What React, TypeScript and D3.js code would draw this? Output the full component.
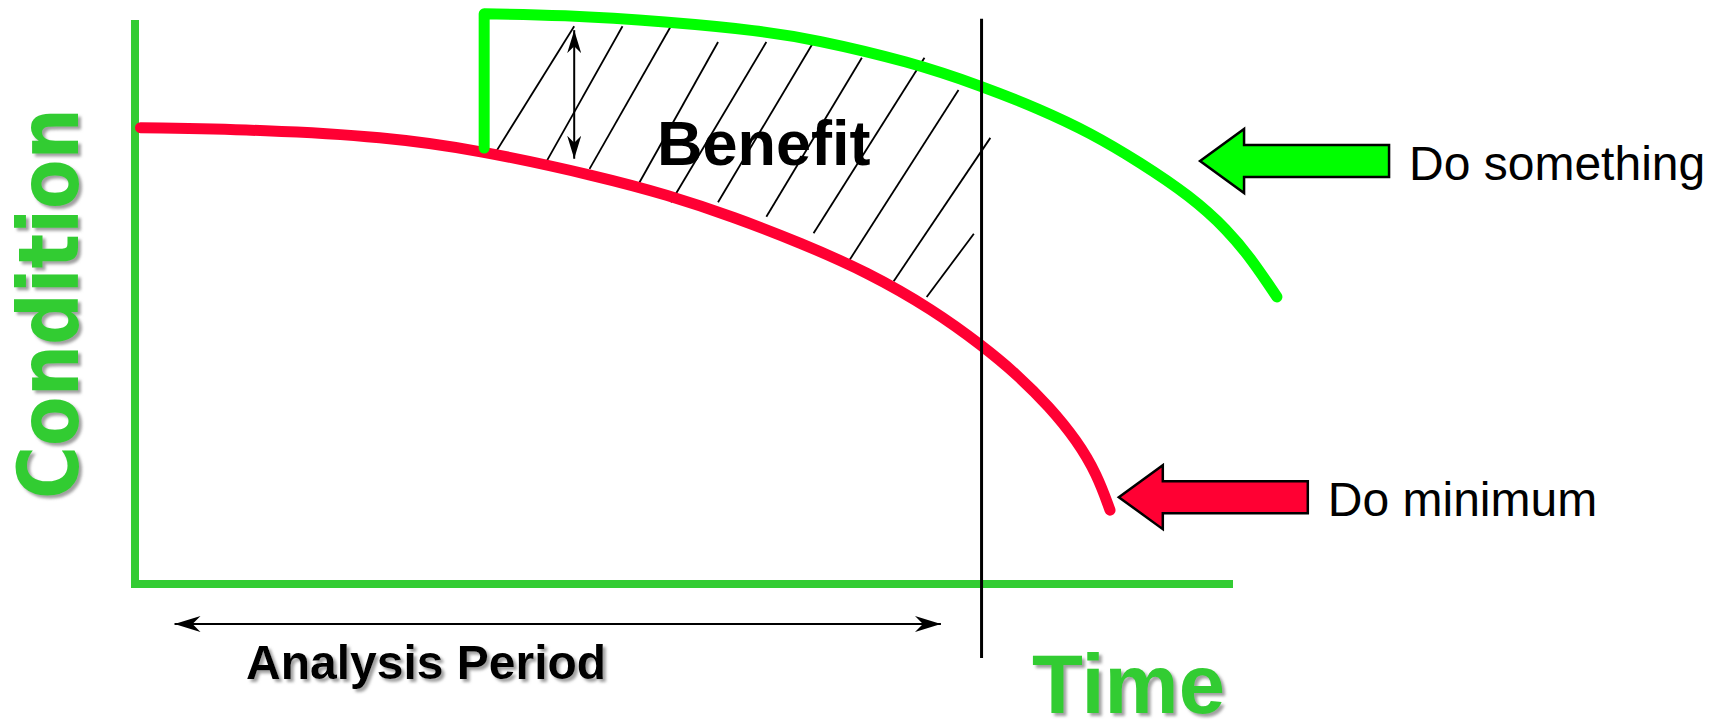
import React from "react";
import * as d3 from "d3";

const W = 1716;
const H = 721;

// condition (0-100) against time (0-100)
const doMinTime = [0.5, 12.1, 22.6, 31.2, 42.4, 48.5, 54.5, 60.6, 66.7, 72.7, 77.2, 80.3, 83.3, 85.8, 87.6, 88.8];
const doMinCond = [80.9, 80.5, 79.3, 77.0, 72.2, 69.0, 65.1, 60.5, 55.3, 48.6, 42.2, 37.2, 31.4, 25.4, 19.5, 13.1];

const treatTime = 31.8;
const treatCondBefore = 77.3;
const doSomeTime = [31.8, 38.7, 48.5, 56.9, 61.8, 70.6, 77.1, 82.4, 87.0, 91.5, 96.1, 99.5, 101.8, 104.0];
const doSomeCond = [101.1, 100.9, 99.7, 98.1, 96.6, 92.6, 88.3, 84.2, 80.0, 74.8, 68.8, 62.8, 57.3, 50.9];

// hatching of the benefit area
const hatchT0 = [32.8, 37.1, 41.4, 45.8, 48.8, 53.1, 57.5, 61.8, 64.8, 69.1, 72.1];
const hatchC0 = [76.4, 73.6, 73.6, 70.7, 67.7, 67.7, 65.1, 62.2, 56.6, 53.7, 50.9];
const hatchT1 = [40.0, 44.4, 48.8, 53.1, 57.5, 61.8, 66.2, 71.9, 75.0, 77.9, 76.4];
const hatchC1 = [98.9, 98.9, 98.9, 96.1, 96.1, 96.1, 93.3, 93.3, 87.6, 79.1, 62.1];

const analysisRange = [3.6, 73.4];
const analysisLimit = 77.1;
const benefitMarkTime = 40.0;
const benefitMarkCond = [98.2, 75.4];

const seriesNames = ["Do something", "Do minimum"];
const seriesTipTime = [97.0, 89.6];
const seriesTipCond = [75.0, 15.4];

const AXIS_GREEN = "#33cc33";
const seriesColors = ["#00ff00", "#ff0033"];

export default function App() {
  const x = d3.scaleLinear().domain([0, 100]).range([135, 1233]);
  const y = d3.scaleLinear().domain([0, 100]).range([584, 20]);

  const curve = d3
    .line<[number, number]>()
    .x((d) => x(d[0]))
    .y((d) => y(d[1]))
    .curve(d3.curveBasis);
  const straight = d3
    .line<[number, number]>()
    .x((d) => x(d[0]))
    .y((d) => y(d[1]));

  const redPts = doMinTime.map((t, i) => [t, doMinCond[i]] as [number, number]);
  const greenPts = doSomeTime.map((t, i) => [t, doSomeCond[i]] as [number, number]);
  const stepPath = straight([
    [treatTime, treatCondBefore],
    [treatTime, doSomeCond[0]],
  ]);
  const greenPath = stepPath + (curve(greenPts) || "").replace(/^M/, "L");

  const axisPath = `M${x(0)},${y(100)} V${y(0)} H${x(100)}`;

  const blockArrow = (tx: number, ty: number) => {
    const headLen = 44, headHalf = 32, shaftHalf = 16, len = 189;
    return `M${tx},${ty} L${tx + headLen},${ty - headHalf} L${tx + headLen},${ty - shaftHalf} L${tx + len},${ty - shaftHalf} L${tx + len},${ty + shaftHalf} L${tx + headLen},${ty + shaftHalf} L${tx + headLen},${ty + headHalf} Z`;
  };

  return (
    <svg
      width={W}
      height={H}
      style={{ position: "absolute", left: 0, top: 0, background: "#fff" }}
    >
      <defs>
        <filter id="shadow" x="-10%" y="-10%" width="130%" height="140%">
          <feDropShadow dx="3" dy="3" stdDeviation="1.6" floodColor="#777" floodOpacity="0.7" />
        </filter>
        <marker
          id="head"
          viewBox="-26 -8 27 16"
          refX="0"
          refY="0"
          markerWidth="27"
          markerHeight="16"
          markerUnits="userSpaceOnUse"
          orient="auto-start-reverse"
        >
          <path d="M0,0 L-26,-8 L-18,0 L-26,8 Z" fill="#000" />
        </marker>
        <marker
          id="headSmall"
          viewBox="-23 -7 24 14"
          refX="0"
          refY="0"
          markerWidth="24"
          markerHeight="14"
          markerUnits="userSpaceOnUse"
          orient="auto-start-reverse"
        >
          <path d="M0,0 L-23,-7 L-16,0 L-23,7 Z" fill="#000" />
        </marker>
      </defs>

      {/* hatching */}
      <g stroke="#000" strokeWidth={1.8}>
        {hatchT0.map((t, i) => (
          <line key={i} x1={x(t)} y1={y(hatchC0[i])} x2={x(hatchT1[i])} y2={y(hatchC1[i])} />
        ))}
      </g>

      {/* benefit gap arrow */}
      <line
        x1={x(benefitMarkTime)}
        y1={y(benefitMarkCond[0])}
        x2={x(benefitMarkTime)}
        y2={y(benefitMarkCond[1])}
        stroke="#000"
        strokeWidth={2}
        markerStart="url(#headSmall)"
        markerEnd="url(#headSmall)"
      />

      {/* axes */}
      <path d={axisPath} fill="none" stroke={AXIS_GREEN} strokeWidth={8} />

      {/* curves */}
      <path d={curve(redPts) || ""} fill="none" stroke={seriesColors[1]} strokeWidth={11} strokeLinecap="round" />
      <path
        d={greenPath}
        fill="none"
        stroke={seriesColors[0]}
        strokeWidth={11}
        strokeLinecap="round"
        strokeLinejoin="round"
      />

      {/* end of analysis period */}
      <line x1={x(analysisLimit)} y1={y(100.2)} x2={x(analysisLimit)} y2={y(-13.1)} stroke="#000" strokeWidth={3} />

      {/* analysis period arrow */}
      <line
        x1={x(analysisRange[0])}
        y1={y(-7.1)}
        x2={x(analysisRange[1])}
        y2={y(-7.1)}
        stroke="#000"
        strokeWidth={2}
        markerStart="url(#head)"
        markerEnd="url(#head)"
      />

      <text
        x={657}
        y={165}
        fontFamily="'Liberation Sans', Arial, sans-serif"
        fontWeight="bold"
        fontSize={63}
        fill="#000"
      >
        Benefit
      </text>

      {/* legend arrows */}
      {seriesNames.map((name, i) => {
        const tx = x(seriesTipTime[i]);
        const ty = y(seriesTipCond[i]);
        return (
          <g key={name}>
            <path d={blockArrow(tx, ty)} fill={seriesColors[i]} stroke="#000" strokeWidth={2.5} />
            <text
              x={tx + 209}
              y={ty + 19}
              fontFamily="'Liberation Sans', Arial, sans-serif"
              fontSize={48}
              fill="#000"
            >
              {name}
            </text>
          </g>
        );
      })}

      {/* axis titles */}
      <g filter="url(#shadow)">
        <text
          transform="translate(78,499) rotate(-90)"
          fontFamily="'DejaVu Sans', Verdana, sans-serif"
          fontWeight="bold"
          fontSize={84}
          fill={AXIS_GREEN}
          textLength={391}
          lengthAdjust="spacingAndGlyphs"
        >
          Condition
        </text>
      </g>
      <g filter="url(#shadow)">
        <text
          x={1032}
          y={713}
          fontFamily="'Liberation Sans', Arial, sans-serif"
          fontWeight="bold"
          fontSize={83}
          fill={AXIS_GREEN}
          textLength={193}
          lengthAdjust="spacingAndGlyphs"
        >
          Time
        </text>
      </g>
      <g filter="url(#shadow)">
        <text
          x={246}
          y={679}
          fontFamily="'Liberation Sans', Arial, sans-serif"
          fontWeight="bold"
          fontSize={48}
          fill="#000"
        >
          Analysis Period
        </text>
      </g>
    </svg>
  );
}
